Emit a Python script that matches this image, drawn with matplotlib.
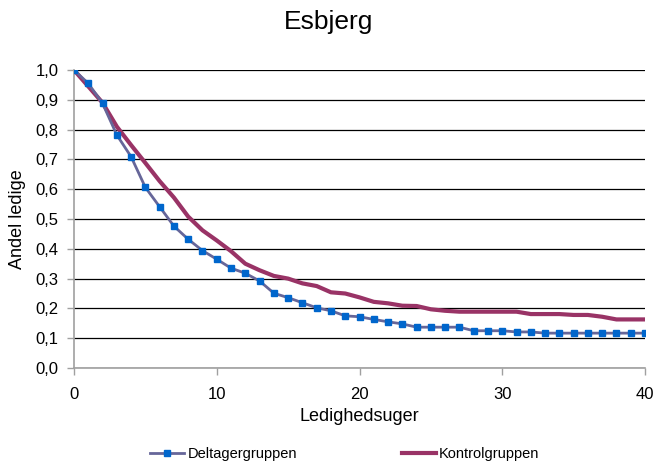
import matplotlib
matplotlib.use("Agg")
import matplotlib.pyplot as plt
from matplotlib.ticker import FuncFormatter

plt.rcParams['font.family'] = ['Liberation Sans', 'DejaVu Sans']

weeks = list(range(0, 41))
deltager = [1.000, 0.955, 0.888, 0.782, 0.709, 0.606, 0.541, 0.476, 0.432, 0.394,
            0.365, 0.335, 0.318, 0.292, 0.251, 0.236, 0.219, 0.202, 0.192, 0.175,
            0.172, 0.163, 0.155, 0.148, 0.137, 0.137, 0.137, 0.137, 0.125, 0.125,
            0.125, 0.121, 0.121, 0.117, 0.117, 0.117, 0.117, 0.117, 0.117, 0.117,
            0.117]
kontrol = [1.000, 0.945, 0.890, 0.810, 0.748, 0.688, 0.627, 0.572, 0.508, 0.462,
           0.428, 0.392, 0.350, 0.328, 0.309, 0.300, 0.284, 0.275, 0.254, 0.250,
           0.237, 0.222, 0.217, 0.209, 0.208, 0.197, 0.192, 0.189, 0.189, 0.189,
           0.189, 0.189, 0.181, 0.181, 0.181, 0.178, 0.178, 0.172, 0.163, 0.163,
           0.163]
labels = ['Deltagergruppen', 'Kontrolgruppen']

fig = plt.figure(figsize=(6.58, 4.65), dpi=100)
ax = fig.add_axes([74/658, 1 - 368/465, (645 - 74)/658, (368 - 70)/465])

ax.plot(weeks, deltager, color='#666699', lw=2, marker='s', markersize=5,
        markerfacecolor='#0066CC', markeredgecolor='#0066CC', label=labels[0], zorder=3)
ax.plot(weeks, kontrol, color='#993366', lw=3, label=labels[1], zorder=2)

ax.set_xlim(0, 40)
ax.set_ylim(0, 1.0)
ax.set_xticks([0, 10, 20, 30, 40])
ax.set_yticks([i / 10 for i in range(11)])
ax.yaxis.set_major_formatter(FuncFormatter(lambda v, p: f"{v:.1f}".replace('.', ',')))
ax.grid(axis='y', color='#000000', lw=0.9)
ax.set_axisbelow(True)
for s in ['top', 'right']:
    ax.spines[s].set_visible(False)
for s in ['left', 'bottom']:
    ax.spines[s].set_color('#A0A0A0')
    ax.spines[s].set_linewidth(1.2)
ax.tick_params(axis='both', colors='#A0A0A0', labelcolor='black', labelsize=12,
               length=5, width=1)
ax.tick_params(axis='y', pad=6)
ax.tick_params(axis='x', pad=9)

ax.set_xlabel('Ledighedsuger', fontsize=13, labelpad=4)
ax.set_ylabel('Andel ledige', fontsize=13, labelpad=7)
fig.text(0.5, 1 - 22/465, 'Esbjerg', ha='center', va='center', fontsize=19)

fig.legend(loc='center', bbox_to_anchor=(345/658, 1 - 454/465), ncol=2, frameon=False,
           fontsize=10.5, columnspacing=7.2, handlelength=2.3, handletextpad=0.25)

fig.savefig('out.png', dpi=100)
